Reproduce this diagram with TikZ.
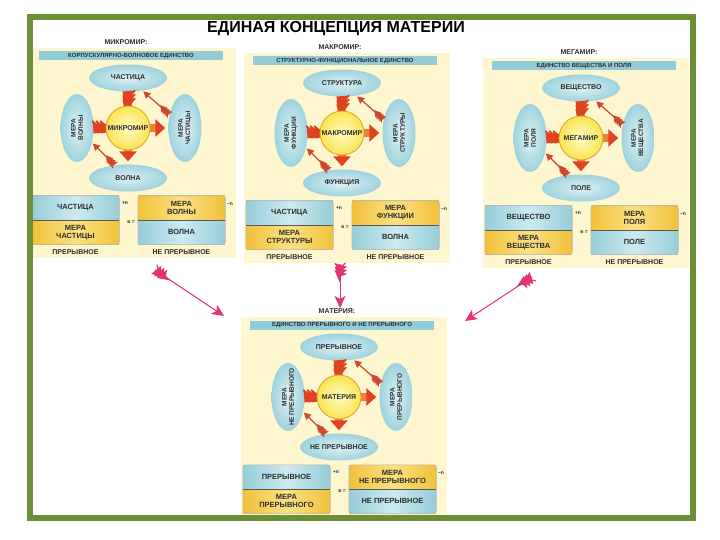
\documentclass[tikz,border=0pt]{standalone}
\usepackage{fontspec}
\setmainfont{Liberation Sans}
\usetikzlibrary{shapes.geometric,positioning,arrows.meta,decorations.markings}

\definecolor{framegreen}{RGB}{108,142,52}
\definecolor{panelbg}{RGB}{253,246,206}
\definecolor{banblue}{RGB}{146,204,214}
\definecolor{ellblue}{RGB}{158,210,222}
\definecolor{elllight}{RGB}{222,241,246}
\definecolor{tblblue}{RGB}{150,205,216}
\definecolor{tbllight}{RGB}{205,234,240}
\definecolor{tblyel}{RGB}{242,192,58}
\definecolor{tblyl}{RGB}{250,226,130}
\definecolor{sunin}{RGB}{255,252,200}
\definecolor{sunout}{RGB}{248,228,80}
\definecolor{sunline}{RGB}{228,160,40}
\definecolor{bigor}{RGB}{240,128,62}
\definecolor{bigred}{RGB}{222,66,32}
\definecolor{thinred}{RGB}{205,72,45}
\definecolor{pinkarr}{RGB}{226,52,112}
\definecolor{txt}{RGB}{45,45,45}

\newcommand{\lblfont}{\fontsize{7}{7.6}\selectfont\bfseries}
\newcommand{\sidefont}{\fontsize{6.5}{7.2}\selectfont\bfseries}
\newcommand{\tblfont}{\fontsize{7.5}{8}\selectfont\bfseries}
\newcommand{\banfont}{\fontsize{6}{6}\selectfont\bfseries}
\newcommand{\tinyfont}{\fontsize{5}{5}\selectfont\bfseries}

\begin{document}
\begin{tikzpicture}[x=1pt, y=-1pt,
  ell/.style={ellipse, minimum width=78pt, minimum height=27pt, inner xsep=-8pt, inner ysep=0pt, inner color=elllight, outer color=ellblue, align=center, font=\lblfont, text=txt},
  sideell/.style={ell, minimum width=68pt, minimum height=33pt, rotate=90, font=\sidefont},
  sun/.style={circle, minimum size=44pt, inner sep=0pt, draw=sunline, line width=0.8pt, inner color=sunin, outer color=sunout, font=\lblfont, text=txt},
  half/.style={minimum width=87pt, minimum height=24pt, inner sep=0pt, align=center, font=\tblfont, text=txt},
  bluehalf/.style={half, left color=tblblue, right color=tblblue, middle color=tbllight},
  yelhalf/.style={half, left color=tblyel, right color=tblyel, middle color=tblyl},
  boxline/.style={draw=gray!60, line width=0.6pt, rounded corners=3pt},
  divline/.style={draw=gray!70!black, line width=0.5pt},
  bigfletch/.style={postaction={decorate, decoration={markings, mark=at position 4pt with {\foreach \i in {0,4,8} {\draw[bigred, line width=1.6pt] (\i-6,-8) -- (\i,0) -- (\i-6,8);}}}}},
  smallfletch/.style={postaction={decorate, decoration={markings, mark=at position 3pt with {\foreach \i in {0,3,6} {\draw[thinred, line width=1.1pt] (\i-4,-4.5) -- (\i,0) -- (\i-4,4.5);}}}}},
  pinkfletch/.style={postaction={decorate, decoration={markings, mark=at position 4pt with {\foreach \i in {0,3.5,7} {\draw[pinkarr, line width=1.3pt] (\i-5,-5.5) -- (\i,0) -- (\i-5,5.5);}}}}},
  bigarrow/.style={draw=bigor, line width=8pt, -{Triangle[length=10pt, width=17pt, color=bigred]}, shorten <=1pt, shorten >=3pt, bigfletch},
  thinarrow/.style={draw=thinred, line width=1.2pt, -{Triangle[length=7pt, width=7pt]}, shorten <=1pt, shorten >=1pt, smallfletch},
  pinkarrow/.style={draw=pinkarr, line width=1pt, -{Stealth[length=12pt, width=11pt, inset=3pt]}, pinkfletch}]

\useasboundingbox (0,0) rectangle (720,540);
\fill[white] (0,0) rectangle (720,540);

\node[font=\fontsize{16}{16}\selectfont\bfseries] (title) at (336,29) {ЕДИНАЯ КОНЦЕПЦИЯ МАТЕРИИ};

\begin{scope}
\clip (32,20) rectangle (690,515);
\foreach \pn/\x/\y/\hd/\bn/\cn/\ttop/\tbot/\tleft/\tright/\tlt/\trb in {
  mic/128/128/МИКРОМИР:/КОРПУСКУЛЯРНО-ВОЛНОВОЕ ЕДИНСТВО/МИКРОМИР/ЧАСТИЦА/ВОЛНА/{МЕРА\\ВОЛНЫ}/{МЕРА\\ЧАСТИЦЫ}/ЧАСТИЦА/ВОЛНА,
  mac/342/133/МАКРОМИР:/СТРУКТУРНО-ФУНКЦИОНАЛЬНОЕ ЕДИНСТВО/МАКРОМИР/СТРУКТУРА/ФУНКЦИЯ/{МЕРА\\ФУНКЦИИ}/{МЕРА\\СТРУКТУРЫ}/ЧАСТИЦА/ВОЛНА,
  meg/581/138/МЕГАМИР:/ЕДИНСТВО ВЕЩЕСТВА И ПОЛЯ/МЕГАМИР/ВЕЩЕСТВО/ПОЛЕ/{МЕРА\\ПОЛЯ}/{МЕРА\\ВЕЩЕСТВА}/ВЕЩЕСТВО/ПОЛЕ,
  mat/339/397/МАТЕРИЯ:/ЕДИНСТВО ПРЕРЫВНОГО И НЕ ПРЕРЫВНОГО/МАТЕРИЯ/ПРЕРЫВНОЕ/НЕ ПРЕРЫВНОЕ/{МЕРА\\НЕ ПРЕРЫВНОГО}/{МЕРА\\ПРЕРЫВНОГО}/ПРЕРЫВНОЕ/НЕ ПРЕРЫВНОЕ} {
  \fill[panelbg] (\x-98,\y-80) rectangle (\x+108,\y+130);
  \node[font=\lblfont, text=txt] (\pn-hd) at (\x-2,\y-86) {\hd};
  \node[fill=banblue, minimum width=184pt, minimum height=9pt, inner sep=0pt, font=\banfont, text=txt] (\pn-ban) at (\x+3,\y-72) {\bn};

  \node[ell] (\pn-top) at (\x,\y-50) {\ttop};
  \node[ell] (\pn-bot) at (\x,\y+50) {\tbot};
  \node[sideell] (\pn-left) at (\x-51,\y) {\tleft};
  \node[sideell] (\pn-right) at (\x+57,\y) {\tright};

  \draw[bigarrow] (\pn-top) -- (\pn-bot);
  \draw[bigarrow] (\pn-left) -- (\pn-right);
  \node[sun] (\pn-c) at (\x,\y) {\cn};
  \draw[thinarrow] (\pn-right) -- (\pn-top);
  \draw[thinarrow] (\pn-bot) -- (\pn-left);

  % table: discrete and continuous
  \node[bluehalf] (\pn-lt) at (\x-52.5,\y+80) {\tlt};
  \node[yelhalf, below=0pt of \pn-lt] (\pn-lb) {\tright};
  \node[yelhalf] (\pn-rt) at (\x+53.5,\y+80) {\tleft};
  \node[bluehalf, below=0pt of \pn-rt] (\pn-rb) {\trb};
  \draw[boxline] (\pn-lt.north west) rectangle (\pn-lb.south east);
  \draw[boxline] (\pn-rt.north west) rectangle (\pn-rb.south east);
  \draw[divline] (\pn-lt.south west) -- (\pn-lt.south east);
  \draw[divline] (\pn-rt.south west) -- (\pn-rt.south east);
  \node[font=\tinyfont, text=txt] (\pn-pl) at (\x-3,\y+75) {+n};
  \node[font=\tinyfont, text=txt] (\pn-eq) at (\x+3,\y+94) {в =};
  \node[font=\tinyfont, text=txt] (\pn-mi) at (\x+102,\y+76) {–n};
}
\foreach \pn in {mic,mac,meg} {
  \node[font=\lblfont, text=txt, below=1pt of \pn-lb] (\pn-pr) {ПРЕРЫВНОЕ};
  \node[font=\lblfont, text=txt, below=1pt of \pn-rb] (\pn-npr) {НЕ ПРЕРЫВНОЕ};
}

% arrows into matter
\coordinate (mic-out) at (155,270);
\coordinate (mac-out) at (340,264);
\coordinate (meg-out) at (532,277);
\coordinate (mat-inl) at (224,316);
\coordinate (mat-inm) at (340,308);
\coordinate (mat-inr) at (465,321);
\draw[pinkarrow] (mic-out) -- (mat-inl);
\draw[pinkarrow] (mac-out) -- (mat-inm);
\draw[pinkarrow] (meg-out) -- (mat-inr);
\end{scope}

\draw[framegreen, line width=6pt] (29.5,17.5) rectangle (692.5,518);
\end{tikzpicture}
\end{document}
